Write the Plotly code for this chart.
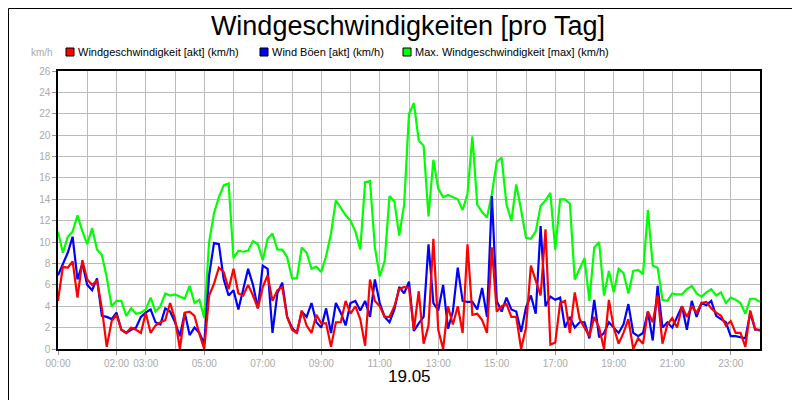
import plotly.graph_objects as go

hours = [i / 6 for i in range(145)]

max_speed = [
    11, 9, 10.5, 11, 12.5, 11,
    9.8, 11.3, 9.3, 8.8, 6.7, 4,
    4.5, 4.5, 3.1, 3.8, 3.3, 3.4,
    3.7, 4.8, 3.5, 4, 5.2, 5,
    5.1, 4.9, 4.7, 5.9, 4.3, 4.6,
    2.9, 10, 12.7, 14.2, 15.3, 15.5,
    8.5, 9.2, 9.1, 9.2, 10.1, 9.8,
    8.3, 10.3, 10.8, 9.3, 9.3, 8.6,
    6.6, 6.6, 9.5, 9, 7.5, 7.7,
    7.2, 8.7, 10.8, 13.9, 13.2, 12.5,
    12, 11, 9.3, 15.6, 15.7, 9.5,
    6.8, 8.2, 14.3, 13.8, 10.6, 13.5,
    22, 23, 19.5, 19, 12.4, 17.7,
    15, 14.2, 14.4, 14.2, 14, 13,
    14.5, 19.9, 13.5, 12.8, 12.3, 14.5,
    17.5, 17.9, 13.5, 12, 15.4, 13,
    10.4, 10.3, 11, 13.4, 13.9, 14.6,
    9.3, 14, 14, 13.6, 6.5, 7.5,
    8.5, 4.5, 9.5, 10, 5, 7.3,
    5.3, 7.5, 7.1, 5.2, 7.3, 7.4,
    7, 13, 7.8, 7.6, 4.6, 4.5,
    5.2, 5.1, 5.1, 5.6, 5.9, 5.2,
    4.9, 5.3, 5.6, 5.0, 5.3, 4.3,
    4.8, 4.6, 4.3, 3.3, 4.7, 4.7,
    4.4,
]

gust = [
    6.9, 7.9, 9, 10.5, 6.5, 8,
    6, 5.5, 6.6, 3.1, 3, 2.8,
    3.4, 1.8, 1.5, 1.8, 2, 3,
    3.4, 3.7, 2.5, 2.3, 3.8, 3.5,
    2.5, 1.2, 3.4, 1.3, 2, 1.5,
    0.5, 6.9, 9.9, 9.8, 6.5, 5.0,
    5.5, 3.7, 5.5, 7.5, 6, 3.8,
    7.8, 7.5, 1.5, 5.2, 6.2, 3,
    2, 1.5, 3.5, 3.0, 4.3, 2.5,
    2, 3.8, 1.5, 4.3, 3.4, 2.2,
    4.3, 4.5, 3.6, 4.5, 3, 6.5,
    4.3, 3, 2.5, 3.7, 5.8, 5.2,
    6.3, 1.7, 2.4, 3, 9.8, 4.3,
    3.6, 6, 1.9, 3.5, 7.6, 4.5,
    4.4, 4.4, 3.7, 5.7, 3, 14.3,
    4.5, 3.5, 4.8, 3.7, 3.5, 1.6,
    3.9, 5, 3.3, 11.5, 4, 4.9,
    4.6, 4.8, 2, 3, 2, 2.5,
    2.5, 1.0, 4.6, 1.1, 1.5, 2.5,
    2, 1.5, 2.3, 4.2, 1.5, 1.2,
    1.5, 3.5, 0.8, 5.9, 2.0, 2.5,
    2.0, 3.0, 4.0, 1.8, 4.5, 3.0,
    4.3, 4.1, 4.5, 3.1, 2.8, 2.5,
    1.2, 1.2, 1.1, 1.0, 3.4, 1.8,
    1.8,
]

speed = [
    4.5, 7.7, 7.6, 8.2, 4.8, 8.3,
    6.5, 6, 6.4, 3.8, 0.2, 2.6,
    3.2, 1.8, 1.5, 2, 1.8, 1.5,
    3.4, 1.5, 2.2, 2.5, 2.7, 4.3,
    2.8, 0, 3.4, 3.5, 3.1, 1.4,
    0, 5, 6.1, 7.6, 7.2, 5.6,
    7.5, 5.2, 5, 6.0, 5, 3.8,
    5.8, 6.9, 4.5, 5.5, 5.8, 3,
    1.8, 1.5, 3.6, 2.2, 1.5, 3.2,
    2.4, 2.4, 0.2, 2.5, 2.5, 4.5,
    3.3, 4, 2.8, 0.3, 6.5, 4.5,
    4, 3, 3, 4, 5.6, 5.8,
    5.7, 1.8, 5.4, 0.5, 2.2, 10.3,
    1.8, 0, 4, 2.3, 4, 1.5,
    9.8, 3.2, 3.3, 2.7, 1.5, 9.5,
    3.5, 4, 4.2, 3, 3, 0,
    2, 7.8, 6.4, 5, 11.2, 0.4,
    0.6, 4.3, 4.5, 1.5, 5.3, 2.8,
    2, 1.2, 3.0, 2, 0, 4.6,
    2, 0.5, 1.5, 2.8, 0, 1.0,
    0.5, 3.5, 2.5, 5, 0.5, 2.3,
    2.9, 2.0, 4.0, 3.0, 4.0, 3.4,
    4.3, 4.4, 3.8, 3.4, 3.1, 2.2,
    2.6, 1.5, 1.5, 0.2, 3.6, 1.9,
    1.7,
]

tick_vals = [0, 2, 3, 5, 7, 9, 11, 13, 15, 17, 19, 21, 23]
tick_text = ["00:00", "02:00", "03:00", "05:00", "07:00", "09:00", "11:00",
             "13:00", "15:00", "17:00", "19:00", "21:00", "23:00"]
names = ["Windgeschwindigkeit [akt] (km/h)", "Wind Böen [akt] (km/h)",
         "Max. Windgeschwindigkeit [max] (km/h)"]
colors = ["#ff0000", "#0000ff", "#00ff00"]
legend_px = [58, 252, 395]

PW, PH, L, T = 702, 278, 50, 63
def px(x): return (x - L) / PW
def py(y): return (T + PH - y) / PH

fig = go.Figure()
for ys, c in [(max_speed, colors[2]), (gust, colors[1]), (speed, colors[0])]:
    fig.add_trace(go.Scatter(x=hours, y=ys, mode="lines", showlegend=False,
                             line=dict(color=c, width=2.2), hoverinfo="skip"))

shapes = [dict(type="rect", xref="paper", yref="paper", x0=px(0.5), x1=px(799.5),
               y0=py(399.5), y1=py(0.5), line=dict(color="black", width=1))]
annotations = [
    dict(text="km/h", xref="paper", yref="paper", x=px(47), y=py(52),
         xanchor="right", yanchor="bottom", showarrow=False,
         font=dict(size=10, color="#aaaaaa")),
    dict(text="19.05", xref="paper", yref="paper", x=0.5, y=py(368),
         xanchor="center", yanchor="middle", showarrow=False,
         font=dict(size=17, color="black")),
]
for n, c, lx in zip(names, colors, legend_px):
    shapes.append(dict(type="rect", xref="paper", yref="paper",
                       x0=px(lx), x1=px(lx + 8), y0=py(48), y1=py(40),
                       fillcolor=c, line=dict(color="black", width=1)))
    annotations.append(dict(text=n, xref="paper", yref="paper", x=px(lx + 10),
                            y=py(44), xanchor="left", yanchor="middle",
                            showarrow=False, font=dict(size=11, color="black")))

fig.update_layout(
    width=800, height=400,
    margin=dict(l=50, r=48, t=63, b=59),
    paper_bgcolor="white", plot_bgcolor="white",
    font=dict(family="Liberation Sans, Arial", color="black"),
    title=dict(text="Windgeschwindigkeiten [pro Tag]", x=0.5, xanchor="center",
               y=0.955, yanchor="middle", font=dict(size=27)),
    showlegend=False,
    xaxis=dict(range=[0, 24], tickvals=tick_vals, ticktext=tick_text,
               showgrid=False, ticks="outside", ticklen=4, tickcolor="#999",
               tickfont=dict(size=10, color="#aaaaaa"),
               showline=True, linecolor="black", linewidth=1.5, mirror=True,
               minor=dict(dtick=1, tick0=0, showgrid=True, gridcolor="#bbbbbb",
                          gridwidth=1), zeroline=False),
    yaxis=dict(range=[0, 26], dtick=2, showgrid=True, gridcolor="#bbbbbb",
               ticks="outside", ticklen=4, tickcolor="#999",
               tickfont=dict(size=10, color="#aaaaaa"),
               showline=True, linecolor="black", linewidth=1.5, mirror=True,
               zeroline=False),
    shapes=shapes,
    annotations=annotations,
)

fig.write_html("out.html")
